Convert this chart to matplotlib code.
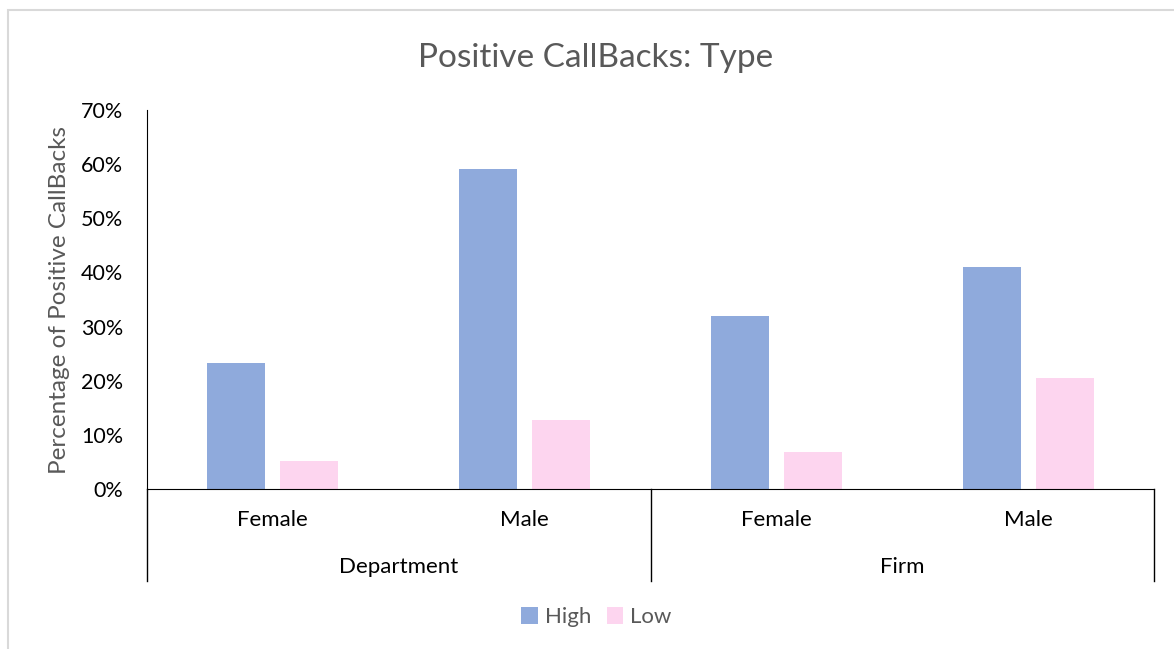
import numpy as np
import matplotlib
matplotlib.use("Agg")
import matplotlib.pyplot as plt
from matplotlib.patches import Rectangle

# ── data ─────────────────────────────────────────
groups     = ["Department", "Firm"]
categories = ["Female", "Male", "Female", "Male"]
high       = [23.3, 59.1, 32.0, 41.0]
low        = [5.2, 12.7, 6.8, 20.5]
y_ticks    = [0, 10, 20, 30, 40, 50, 60, 70]

HIGH_C = "#8faadc"
LOW_C  = "#fdd5ef"
GREY   = "#595959"

plt.rcParams["font.family"] = ["Lato", "DejaVu Sans"]

fig = plt.figure(figsize=(11.74, 6.49), dpi=100)
ax = fig.add_axes([0.1252, 0.2465, 0.8578, 0.584])

# light frame around the chart area
fig.patches.append(Rectangle((0.007, -0.05), 1.2, 1.034, transform=fig.transFigure,
                             fill=False, edgecolor="#d9d9d9", linewidth=1.5))

x = np.arange(len(categories))
w = 0.23
ax.bar(x - 0.145, high, w, color=HIGH_C, label="High")
ax.bar(x + 0.145, low, w, color=LOW_C, label="Low")

ax.set_xlim(-0.5, len(categories) - 0.5)
ax.set_ylim(0, 70)
ax.set_yticks(y_ticks)
ax.set_yticklabels([f"{t}%" for t in y_ticks], fontsize=15.5, color="black")
ax.tick_params(axis="y", length=0, pad=17)
ax.set_xticks([])

for s in ["top", "right"]:
    ax.spines[s].set_visible(False)
ax.spines["left"].set_color("black")
ax.spines["bottom"].set_color("black")

ax.set_ylabel("Percentage of Positive CallBacks", fontsize=17.5, color=GREY, labelpad=8)
fig.text(0.507, 0.91, "Positive CallBacks: Type", fontsize=24, color=GREY,
         ha="center", va="center")

# ── two-level category axis ──────────────────────
trans = ax.get_xaxis_transform()
y_bot = -0.243
for xv in [-0.5, 1.5, len(categories) - 0.5]:
    ax.plot([xv, xv], [0, y_bot], transform=trans, color="black", lw=1, clip_on=False)

for xi, c in zip(x, categories):
    ax.text(xi, -0.082, c, transform=trans, ha="center", va="center", fontsize=16)
for gi, g in enumerate(groups):
    ax.text(gi * 2 + 0.5, -0.206, g, transform=trans, ha="center", va="center", fontsize=16)

leg = fig.legend(loc="center", bbox_to_anchor=(0.508, 0.049), ncol=2, frameon=False,
                 fontsize=16, handlelength=0.75, handleheight=0.75, handletextpad=0.3,
                 columnspacing=0.7)
for t in leg.get_texts():
    t.set_color(GREY)

fig.savefig("out.png", dpi=100)
